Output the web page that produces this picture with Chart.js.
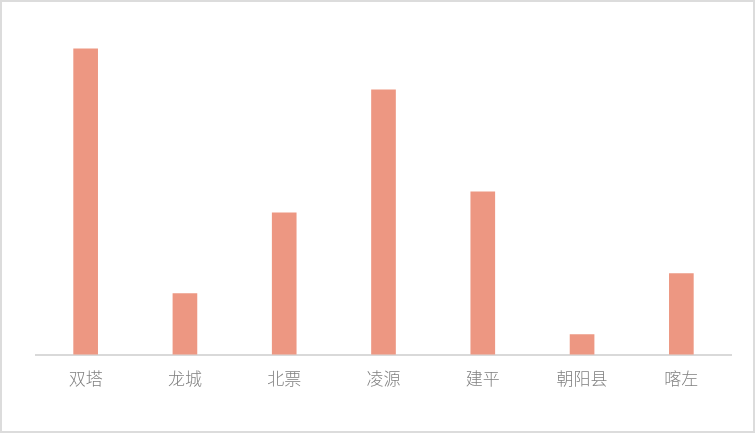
<!DOCTYPE html>
<html><head><meta charset="utf-8">
<script src="https://cdn.jsdelivr.net/npm/chart.js@4"></script>
<style>
html,body{margin:0;padding:0;background:#fff;}
#wrap{width:755px;height:433px;box-sizing:border-box;border:2px solid #dcdcdc;position:relative;}
</style></head>
<body>
<div id="wrap"><canvas id="c"></canvas></div>
<script>
const categories = ['双塔','龙城','北票','凌源','建平','朝阳县','喀左'];
const values = [306, 61, 142, 265, 163, 20, 81];

new Chart(document.getElementById('c'), {
  type: 'bar',
  data: {
    labels: categories,
    datasets: [{ data: values, backgroundColor: '#ED9782', barThickness: 24 }]
  },
  options: {
    responsive: true,
    maintainAspectRatio: false,
    animation: false,
    layout: { padding: { left: 34, right: 22, top: 3, bottom: 28 } },
    plugins: { legend: { display: false }, tooltip: { enabled: false } },
    scales: {
      x: {
        grid: { display: false, drawTicks: false },
        border: { display: true, color: '#d9d9d9', width: 2 },
        ticks: { color: '#808080', padding: 14, font: { family: '"Noto Sans CJK SC"', size: 17, weight: '300' } }
      },
      y: { display: false, min: 0, max: 350 }
    }
  }
});
</script>
</body></html>
